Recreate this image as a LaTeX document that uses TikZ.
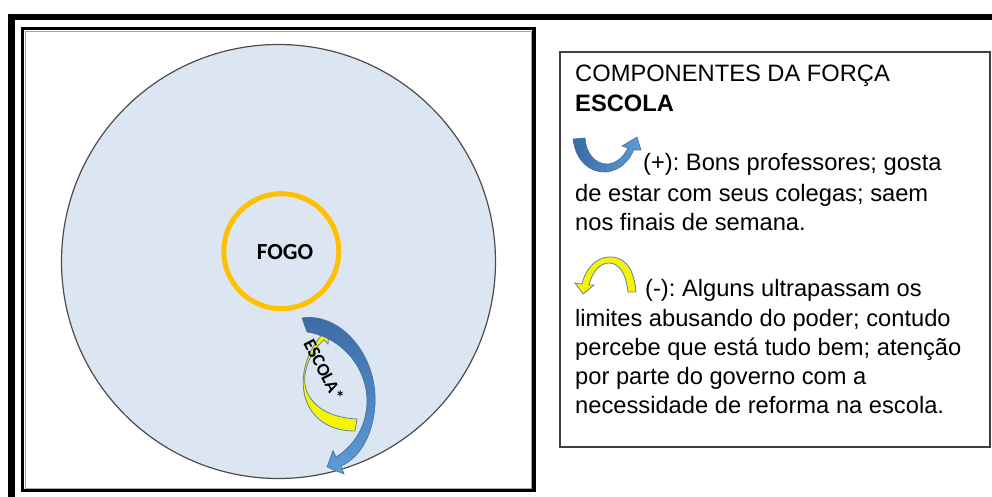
\documentclass[tikz,border=0pt]{standalone}
\usepackage{fontspec}
\setmainfont{Liberation Sans}
\newfontfamily\carlito{Carlito}
\definecolor{bgblue}{RGB}{220,230,242}
\definecolor{ringorange}{RGB}{255,192,0}
\definecolor{arrdark}{RGB}{58,106,166}
\definecolor{arrlight}{RGB}{94,156,214}
\definecolor{arredge}{RGB}{65,113,156}
\definecolor{yelfill}{RGB}{245,245,0}
\definecolor{yeledge}{RGB}{100,128,168}
\begin{document}
\frenchspacing
\begin{tikzpicture}[x=1pt,y=-1pt,
  legtext/.style={anchor=base west, inner sep=0pt, font=\fontsize{23.7}{28}\selectfont},
  bluearrow/.style={draw=arredge, line width=0.6pt},
  yelarrow/.style={fill=yelfill, draw=yeledge, line width=0.8pt}]
\useasboundingbox (0,0) rectangle (992,497);
% outer frame (partly cut off)
\begin{scope}
\clip (0,0) rectangle (992,497);
\draw[line width=6.5pt] (11.5,510) -- (11.5,17) -- (1010,17);
\end{scope}
% inner frame
\draw[line width=3.5pt] (22.5,28.5) rectangle (534,490.5);
\draw[line width=0.8pt, black!35] (25,31) rectangle (531.5,488);
% big circle and fire ring
\node[circle, minimum size=434pt, inner sep=0pt, fill=bgblue, draw=black!70, line width=1.2pt] (world) at (278.5,261.5) {};
\node[circle, minimum size=115pt, inner sep=0pt, draw=ringorange, line width=5pt] (fogo) at (281.3,251.2) {};
\node[font=\carlito\bfseries\fontsize{23}{23}\selectfont, inner sep=0pt] (fogotxt) at (285,251.7) {FOGO};
% yellow (negative) arrow
\path[yelarrow] (320.8,336.2) .. controls (300,360) and (295,400) .. (320,420)
  .. controls (330,428) and (342,431) .. (355,431) -- (357,419)
  .. controls (335,418) and (315,410) .. (307,392)
  .. controls (300,375) and (310,352) .. (324.2,339.8)
  -- (328,344) -- (329,331) -- (317,332) -- cycle;
% blue (positive) arrow
\path[bluearrow, top color=arrdark, bottom color=arrlight]
  (302,318) .. controls (340,312) and (378,355) .. (375,405)
  .. controls (373,435) and (360,458) .. (341,466)
  -- (344,474) -- (327,467) -- (333,450.5) -- (336,457)
  .. controls (355,445) and (367,425) .. (367,400)
  .. controls (366,365) and (340,337) .. (307,332) -- cycle;
\node[font=\carlito\bfseries\fontsize{18}{18}\selectfont, inner sep=0pt, rotate=-62.6] (escola) at (324,370) {ESCOLA*};
% legend box
\draw[line width=1.2pt, black!75] (560,52) rectangle (990,447);
\node[legtext] (l1) at (575,82) {COMPONENTES DA FORÇA};
\node[legtext, font=\fontsize{23.7}{28}\selectfont\bfseries] (l2) at (575,112) {ESCOLA};
% blue icon
\path[bluearrow, left color=arrdark, right color=arrlight]
  (573,139) .. controls (576,163) and (592,173) .. (606,172)
  .. controls (620,171) and (630,160) .. (633.5,150)
  -- (641,150) -- (637,137) -- (622,146) -- (628,148)
  .. controls (623,158) and (615,164) .. (607,164)
  .. controls (595,164) and (586,153) .. (585,138) -- cycle;
\node[legtext] (l3) at (643,170.7) {(+): Bons professores; gosta};
\node[legtext] (l4) at (575,201) {de estar com seus colegas; saem};
\node[legtext] (l5) at (575,230) {nos finais de semana.};
% yellow icon
\path[yelarrow]
  (636,292) .. controls (634,265) and (622,256) .. (608,257)
  .. controls (595,258) and (585,270) .. (582,284)
  -- (575,283) -- (583,294) -- (594,285) -- (589,285)
  .. controls (592,272) and (600,263) .. (609,263)
  .. controls (618,263) and (626,272) .. (628,292) -- cycle;
\node[legtext] (l6) at (645,296.7) {(-): Alguns ultrapassam os};
\node[legtext] (l7) at (575,326) {limites abusando do poder; contudo};
\node[legtext] (l8) at (575,355) {percebe que está tudo bem; atenção};
\node[legtext] (l9) at (575,384) {por parte do governo com a};
\node[legtext] (l10) at (575,413) {necessidade de reforma na escola.};
\end{tikzpicture}
\end{document}
